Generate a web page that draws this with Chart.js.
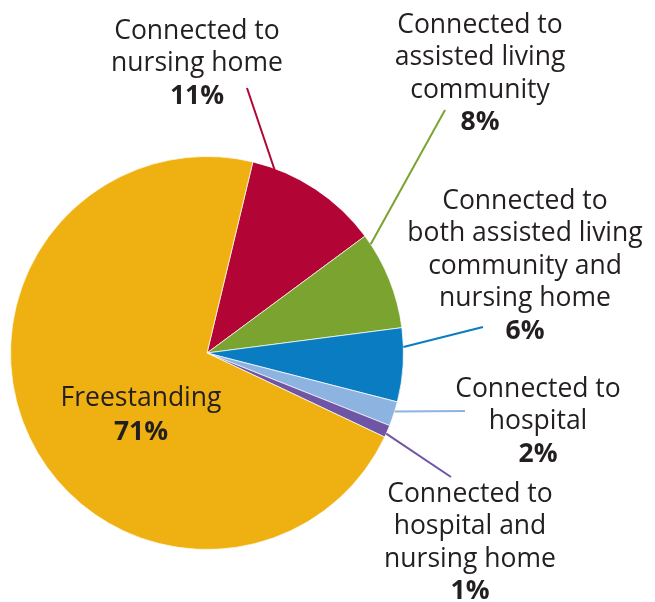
<!DOCTYPE html>
<html>
<head>
<meta charset="utf-8">
<script src="https://cdn.jsdelivr.net/npm/chart.js@4.4.0/dist/chart.umd.min.js"></script>
<style>
  html, body { margin: 0; padding: 0; background: #fff; }
  #wrap { width: 655px; height: 602px; position: relative; }
</style>
</head>
<body>
<div id="wrap"><canvas id="pie"></canvas></div>
<script>
// Settings of senior centers (share of total, %)
const categories = [
  ["Connected to", "nursing home"],
  ["Connected to", "assisted living", "community"],
  ["Connected to", "both assisted living", "community and", "nursing home"],
  ["Connected to", "hospital"],
  ["Connected to", "hospital and", "nursing home"],
  ["Freestanding"]
];
const shares = [11, 8, 6, 2, 1, 71];
const percentLabels = ["11%", "8%", "6%", "2%", "1%", "71%"];
const sliceColors = ["#B20535", "#7BA330", "#0A7DC2", "#8DB4E0", "#6E55A5", "#EFB111"];

// label placement (layout only): centre x, first line y, leader anchor, where the leader meets the slice
const labelLayout = [
  { x: 197, y: 31,  anchor: [247, 88],  frac: 0.21, r: 0.96 },
  { x: 480, y: 25,  anchor: [445, 110], frac: 0.1,  r: 1.0 },
  { x: 525, y: 201, anchor: [483, 327], frac: 0.26, r: 1.0 },
  { x: 538, y: 389, anchor: [465, 411], frac: 0.4,  r: 1.0 },
  { x: 470, y: 494, anchor: [451, 477], frac: 0.7,  r: 1.0 },
  { x: 141, y: 398, anchor: null }
];

const FONT = "'Open Sans', 'DejaVu Sans', sans-serif";
const FONT_SIZE = 26.5;
const LINE_H = 32.5;

const calloutPlugin = {
  id: "callouts",
  afterDraw(chart) {
    const ctx = chart.ctx;
    const arcs = chart.getDatasetMeta(0).data;
    ctx.save();
    arcs.forEach((arc, i) => {
      const lay = labelLayout[i];
      if (lay.anchor) {
        const a = arc.startAngle + lay.frac * (arc.endAngle - arc.startAngle);
        const r = arc.outerRadius * lay.r;
        ctx.beginPath();
        ctx.moveTo(arc.x + r * Math.cos(a), arc.y + r * Math.sin(a));
        ctx.lineTo(lay.anchor[0], lay.anchor[1]);
        ctx.strokeStyle = sliceColors[i];
        ctx.lineWidth = 2;
        ctx.stroke();
      }
      ctx.fillStyle = "#231F20";
      ctx.textAlign = "center";
      ctx.textBaseline = "middle";
      const lines = categories[i];
      ctx.font = FONT_SIZE + "px " + FONT;
      lines.forEach((t, k) => ctx.fillText(t, lay.x, lay.y + k * LINE_H));
      ctx.font = "bold " + FONT_SIZE + "px " + FONT;
      ctx.fillText(percentLabels[i], lay.x, lay.y + lines.length * LINE_H + (i === 5 ? 2 : 0));
    });
    ctx.restore();
  }
};

new Chart(document.getElementById("pie"), {
  type: "pie",
  data: {
    labels: categories.map(c => c.join(" ")),
    datasets: [{
      data: shares,
      backgroundColor: sliceColors,
      borderColor: "rgba(255,255,255,0.7)",
      borderWidth: 1
    }]
  },
  options: {
    responsive: true,
    maintainAspectRatio: false,
    animation: false,
    rotation: 13.5,
    layout: { padding: { left: 10, right: 251, top: 156, bottom: 52 } },
    plugins: { legend: { display: false }, tooltip: { enabled: false } }
  },
  plugins: [calloutPlugin]
});
</script>
</body>
</html>
